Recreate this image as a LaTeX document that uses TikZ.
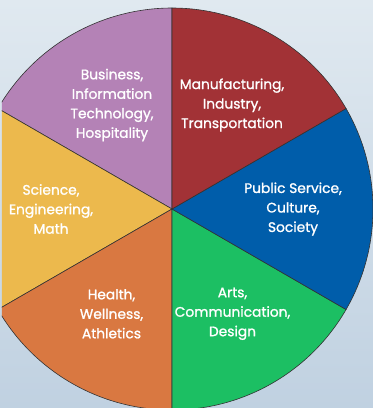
\documentclass[tikz,border=0pt]{standalone}
\usepackage{fontspec}
\setmainfont{Poppins}
\newfontfamily\lblfont[FakeBold=1.2]{Poppins}
\definecolor{bgtop}{HTML}{E0E9F0}
\definecolor{bgbot}{HTML}{C0D1E1}
\definecolor{bizpurple}{HTML}{B482B6}
\definecolor{manred}{HTML}{A23236}
\definecolor{pubblue}{HTML}{005DAA}
\definecolor{artgreen}{HTML}{1CBF63}
\definecolor{hlthorange}{HTML}{D97841}
\definecolor{sciyellow}{HTML}{ECB94D}
\tikzset{
  slice/.style={draw=black!80, line width=0.6pt},
  lbl/.style={text=white, align=center, inner sep=0pt, font=\lblfont\fontsize{13.8}{19.5}\selectfont}
}
\begin{document}
\begin{tikzpicture}[x=1pt,y=1pt]
\useasboundingbox (-172,-199) rectangle (201,209);
\shade[top color=bgtop, bottom color=bgbot] (-172,-199) rectangle (201,209);
\begin{scope}
\clip (-170,-199) rectangle (201,209);
\fill[bizpurple, slice] (0,0) -- (90:201) arc (90:150:201) -- cycle;
\fill[sciyellow, slice] (0,0) -- (150:201) arc (150:210:201) -- cycle;
\fill[hlthorange, slice] (0,0) -- (210:201) arc (210:270:201) -- cycle;
\fill[artgreen, slice] (0,0) -- (270:201) arc (270:330:201) -- cycle;
\fill[pubblue, slice] (0,0) -- (330:201) arc (330:390:201) -- cycle;
\fill[manred, slice] (0,0) -- (30:201) arc (30:90:201) -- cycle;
\end{scope}
\node[lbl] (biz) at (120:120) {Business,\\Information\\Technology,\\Hospitality};
\node[lbl] (man) at (60:120) {Manufacturing,\\Industry,\\Transportation};
\node[lbl] (pub) at (0:121) {Public Service,\\Culture,\\Society};
\node[lbl] (art) at (-60:121) {Arts,\\Communication,\\Design};
\node[lbl] (hlth) at (-120:121) {Health,\\Wellness,\\Athletics};
\node[lbl] (sci) at (180:121) {Science,\\Engineering,\\Math};
\end{tikzpicture}
\end{document}
